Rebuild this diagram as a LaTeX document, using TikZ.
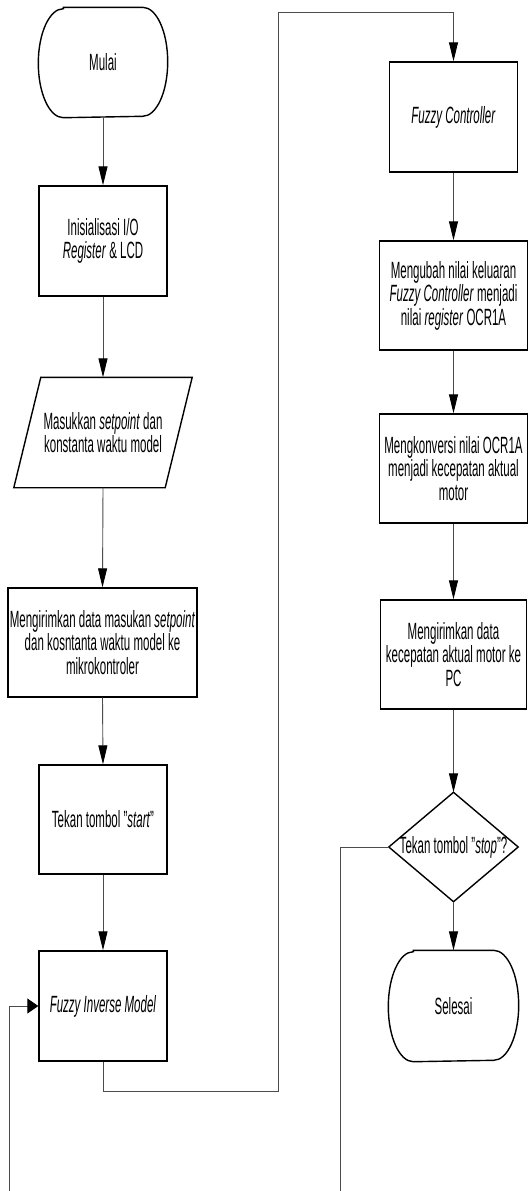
\documentclass[tikz,border=0pt]{standalone}
\usepackage{fontspec}
\setmainfont{Liberation Sans}[FakeStretch=0.49]
\usetikzlibrary{arrows.meta}
\tikzset{
  box/.style={draw, line width=1.4pt, minimum width=128pt, minimum height=109pt,
    inner sep=1pt, align=center, font=\fontsize{23.5}{23.5}\selectfont},
  ghost/.style={box, draw=none},
  outline/.style={line width=1.4pt},
  conn/.style={line width=0.9pt, draw=black!70,
    -{Triangle[length=19pt,width=9pt,color=black]}},
  connh/.style={line width=0.9pt, draw=black!70,
    -{Triangle[length=11pt,width=15pt,color=black]}},
  line/.style={line width=0.9pt, draw=black!70}
}
\begin{document}
\begin{tikzpicture}
\useasboundingbox (0pt,0pt) rectangle (528pt,-1191pt);
\fill[white] (0pt,0pt) rectangle (528pt,-1191pt);

% left column
\node[ghost] (mulai) at (103pt,-62.5pt) {Mulai};
\draw[outline] ([xshift=25pt]mulai.north west) -- ([xshift=-25pt]mulai.north east)
  arc[start angle=90,end angle=-90,x radius=25pt,y radius=54.5pt]
  -- ([xshift=25pt]mulai.south west)
  arc[start angle=270,end angle=90,x radius=25pt,y radius=54.5pt] -- cycle;

\node[box, minimum height=110pt] (init) at (103pt,-241pt) {Inisialisasi I/O\\\textit{Register} \& LCD};

\node[ghost, minimum width=150pt] (input) at (103pt,-432.5pt) {Masukkan \textit{setpoint} dan\\konstanta waktu model};
\draw[outline] ([xshift=13.5pt]input.north west) -- ([xshift=13.5pt]input.north east)
  -- ([xshift=-13.5pt]input.south east) -- ([xshift=-13.5pt]input.south west) -- cycle;

\node[box, minimum width=189pt] (send) at (102.5pt,-642.5pt) {Mengirimkan data masukan \textit{setpoint}\\dan kosntanta waktu model ke\\mikrokontroler};

\node[box] (start) at (103pt,-819.5pt) {Tekan tombol "\textit{start}"};

\node[box, minimum height=110pt] (fim) at (103pt,-1006pt) {\textit{Fuzzy Inverse Model}};

% right column
\node[box, minimum height=110pt] (fc) at (453.5pt,-117pt) {\textit{Fuzzy Controller}};

\node[box, minimum width=148pt] (ubah) at (453.5pt,-295.5pt) {Mengubah nilai keluaran\\\textit{Fuzzy Controller} menjadi\\nilai \textit{register} OCR1A};

\node[box, minimum width=148pt] (konv) at (453.5pt,-468.5pt) {Mengkonversi nilai OCR1A\\menjadi kecepatan aktual\\motor};

\node[box, minimum width=146pt] (kirim) at (453.5pt,-654.5pt) {Mengirimkan data\\kecepatan aktual motor ke\\PC};

\node[ghost, minimum height=108pt] (dec) at (453.5pt,-847pt) {Tekan tombol "\textit{stop}"?};
\draw[outline] (dec.north) -- (dec.east) -- (dec.south) -- (dec.west) -- cycle;

\node[ghost, minimum height=110pt, minimum width=129pt] (selesai) at (453.5pt,-1006pt) {Selesai};
\draw[outline] ([xshift=25pt]selesai.north west) -- ([xshift=-25pt]selesai.north east)
  arc[start angle=90,end angle=-90,x radius=25pt,y radius=55pt]
  -- ([xshift=25pt]selesai.south west)
  arc[start angle=270,end angle=90,x radius=25pt,y radius=55pt] -- cycle;

% helper coordinates
\coordinate (c1) at (278pt,-1091pt);
\coordinate (c2) at (278pt,-12pt);
\coordinate (c3) at (340pt,-1240pt);
\coordinate (c4) at (9pt,-1240pt);

% connectors
\draw[conn] (mulai.south) -- (init.north);
\draw[conn] (init.south) -- (input.north);
\draw[conn] (input.south) -- (send.north);
\draw[conn] (send.south) -- (start.north);
\draw[conn] (start.south) -- (fim.north);
\draw[conn] (fim.south) |- (c1) -- (c2) -| (fc.north);
\draw[conn] (fc.south) -- (ubah.north);
\draw[conn] (ubah.south) -- (konv.north);
\draw[conn] (konv.south) -- (kirim.north);
\draw[conn] (kirim.south) -- (dec.north);
\draw[conn] (dec.south) -- (selesai.north);
\draw[connh] (dec.west) -| (c3) -- (c4) |- (fim.west);
\end{tikzpicture}
\end{document}
